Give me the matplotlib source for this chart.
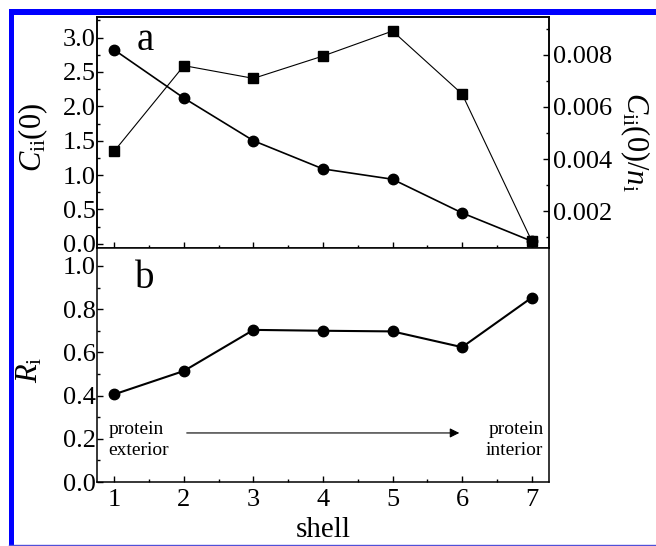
import matplotlib
matplotlib.use("Agg")
import matplotlib.pyplot as plt
from matplotlib.patches import Rectangle
from matplotlib.lines import Line2D
from matplotlib.ticker import MultipleLocator, FormatStrFormatter

# values
shell = [1, 2, 3, 4, 5, 6, 7]
c_ii = [2.82, 2.12, 1.50, 1.09, 0.94, 0.45, 0.04]
c_ii_per_n = [0.00431, 0.00759, 0.00710, 0.00796, 0.00892, 0.00650, 0.00086]
r_i = [0.406, 0.514, 0.704, 0.700, 0.697, 0.624, 0.853]

plt.rcParams['font.family'] = 'Liberation Serif'
plt.rcParams['mathtext.fontset'] = 'custom'
plt.rcParams['mathtext.rm'] = 'Liberation Serif'
plt.rcParams['mathtext.it'] = 'Liberation Serif:italic'
plt.rcParams['axes.linewidth'] = 1.1

fig = plt.figure(figsize=(6.56, 5.46), dpi=100)
ax_a = fig.add_axes([0.1479, 0.5458, 0.689, 0.4231])
ax_b = fig.add_axes([0.1479, 0.1172, 0.689, 0.4286])
ax_a2 = ax_a.twinx()


def style_ticks(ax, left=True, right=False):
    ax.tick_params(which='both', direction='in', labelsize=19, width=1.0,
                   left=left, right=right, top=False)
    ax.tick_params(which='major', length=4)
    ax.tick_params(which='minor', length=2.5)


# panel a
ax_a.plot(shell, c_ii, '-o', color='black', lw=1.2, ms=7.5)
ax_a2.plot(shell, c_ii_per_n, '-s', color='black', lw=0.8, ms=6.5)
ax_a.set_xlim(0.75, 7.25)
ax_a.set_ylim(-0.06, 3.3)
ax_a2.set_ylim(0.00058, 0.00946)
ax_a.yaxis.set_major_locator(MultipleLocator(0.5))
ax_a.yaxis.set_minor_locator(MultipleLocator(0.25))
ax_a.xaxis.set_major_locator(MultipleLocator(1))
ax_a.xaxis.set_minor_locator(MultipleLocator(0.5))
ax_a2.yaxis.set_major_locator(MultipleLocator(0.002))
ax_a2.yaxis.set_minor_locator(MultipleLocator(0.001))
ax_a2.yaxis.set_major_formatter(FormatStrFormatter('%.3f'))
ax_a.yaxis.set_major_formatter(FormatStrFormatter('%.1f'))
style_ticks(ax_a)
ax_a.tick_params(axis='y', pad=1)
ax_a.tick_params(axis='x', labelbottom=False)
style_ticks(ax_a2, left=False, right=True)
ax_a2.tick_params(axis='y', pad=3)
ax_a.set_ylabel(r'$C_{\mathrm{ii}}$(0)', fontsize=22, va='center')
ax_a.yaxis.set_label_coords(-0.142, 0.48)
ax_a2.set_ylabel(r'$C_{\mathrm{ii}}$(0)/$n_{\mathrm{i}}$', fontsize=22,
                 rotation=-90, va='center')
ax_a2.yaxis.set_label_coords(1.19, 0.46)
ax_a.text(0.106, 0.90, 'a', transform=ax_a.transAxes, fontsize=28,
          ha='center', va='center')

# panel b
ax_b.plot(shell, r_i, '-o', color='black', lw=1.5, ms=7.5)
ax_b.set_xlim(0.75, 7.25)
ax_b.set_ylim(0, 1.083)
ax_b.yaxis.set_major_locator(MultipleLocator(0.2))
ax_b.yaxis.set_minor_locator(MultipleLocator(0.1))
ax_b.xaxis.set_major_locator(MultipleLocator(1))
ax_b.xaxis.set_minor_locator(MultipleLocator(0.5))
ax_b.yaxis.set_major_formatter(FormatStrFormatter('%.1f'))
style_ticks(ax_b)
ax_b.tick_params(axis='y', pad=1)
ax_b.tick_params(axis='x', pad=5)
ax_b.spines['top'].set_visible(False)
ax_b.set_ylabel(r'$R_{\mathrm{i}}$', fontsize=22, va='center')
ax_b.yaxis.set_label_coords(-0.148, 0.48)
ax_b.set_xlabel('shell', fontsize=21)
ax_b.xaxis.set_label_coords(0.5, -0.15)
ax_b.text(0.106, 0.87, 'b', transform=ax_b.transAxes, fontsize=28,
          ha='center', va='center')

ax_b.annotate('', xy=(6.0, 0.227), xytext=(2.0, 0.227),
              arrowprops=dict(arrowstyle='-|>', color='black', lw=0.8,
                              mutation_scale=14))
ax_b.text(0.91, 0.195, 'protein\nexterior', fontsize=14, ha='left',
          va='center', linespacing=1.3)
ax_b.text(7.17, 0.195, 'protein\ninterior', fontsize=14, ha='right',
          va='center', linespacing=1.3)

# blue frame
fig.add_artist(Rectangle((9 / 656, 1 - 15 / 546), 1, 6 / 546,
                         transform=fig.transFigure, color='#0000ff', lw=0))
fig.add_artist(Rectangle((9 / 656, 0), 5 / 656, 1 - 9 / 546,
                         transform=fig.transFigure, color='#0000ff', lw=0))
fig.add_artist(Line2D([9 / 656, 1], [1.2 / 546, 1.2 / 546],
                      transform=fig.transFigure, color='#5050d8', lw=1))

fig.savefig('out.png', dpi=100)
